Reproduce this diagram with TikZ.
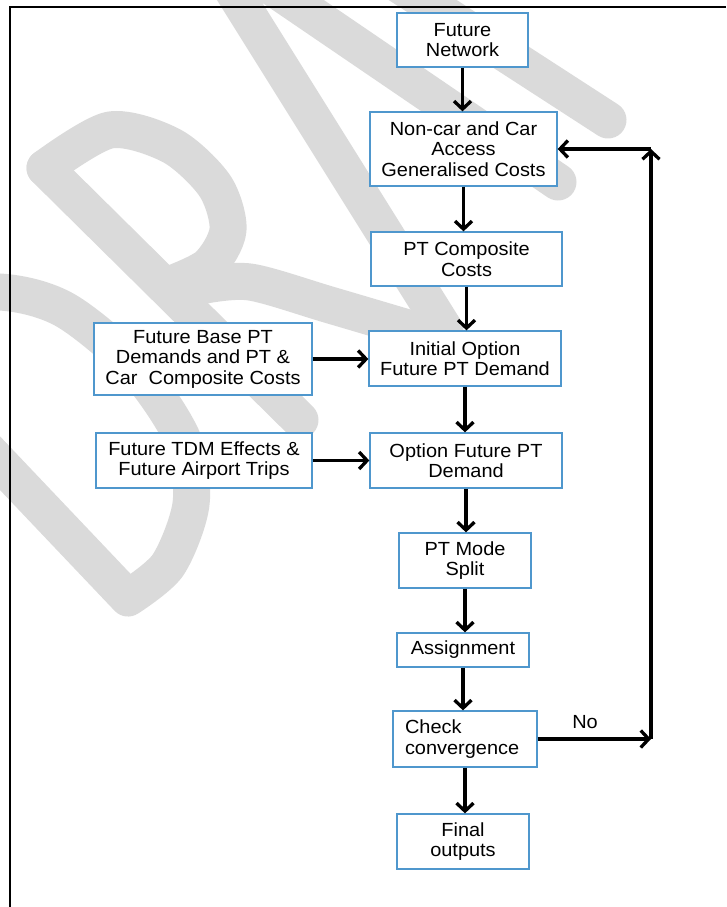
\documentclass[tikz,border=0pt]{standalone}
\usepackage{fontspec}
\setmainfont[FakeStretch=1.05]{Liberation Sans}
\usetikzlibrary{arrows.meta}
\definecolor{boxblue}{RGB}{79,151,205}
\definecolor{wmgray}{RGB}{218,218,218}
\begin{document}
\begin{tikzpicture}[x=1pt,y=-1pt,
  box/.style={draw=boxblue, line width=1.3pt, fill=white, align=center,
    font=\fontsize{19}{20.5}\selectfont, inner sep=0pt},
  arr/.style={line width=3.3pt, -{Straight Barb[length=8pt,width=17pt]}},
  lbl/.style={font=\fontsize{19}{20.5}\selectfont, inner sep=0pt},
  wm/.style={draw=wmgray, line width=37pt, line cap=round, line join=round}]
\useasboundingbox (0,0) rectangle (726,907);
% DRAFT watermark
\begin{scope}
  \clip (0,0) rectangle (726,907);
  % D
  \draw[wm] plot[smooth] coordinates {(-90,300) (0,292) (65,310) (135,368) (183,440) (191,504) (168,565) (128,598)} -- (-60,400);
  % R
  \draw[wm] (45,168) -- (300,420);
  \draw[wm] plot[smooth] coordinates {(45,168) (110,130) (172,146) (215,186) (228,230) (208,266) (166,286)};
  \draw[wm] plot[smooth] coordinates {(200,286) (250,282) (330,305) (428,334)};
  % A
  \draw[wm] (445,330) -- (200,-62) -- (558,182);
  % F
  \draw[wm] (330,-60) -- (608,120);
\end{scope}
\draw[line width=2pt] (9.5,907) -- (9.5,7) -- (726,7);

\node[box, minimum width=131pt, minimum height=54pt] (fn) at (462.5,40) {Future\\Network};
\node[box, minimum width=187pt, minimum height=74pt] (nc) at (463.5,149) {Non-car and Car\\Access\\Generalised Costs};
\node[box, minimum width=191pt, minimum height=54pt] (ptc) at (466.5,259) {PT Composite\\Costs};
\node[box, minimum width=218pt, minimum height=72pt] (fb) at (203,359) {Future Base PT\\Demands and PT \&\\Car\ \ Composite Costs};
\node[box, minimum width=192pt, minimum height=55pt] (ini) at (465,358.5) {Initial Option\\Future PT Demand};
\node[box, minimum width=216pt, minimum height=55pt] (tdm) at (204,460.5) {Future TDM Effects \&\\Future Airport Trips};
\node[box, minimum width=192pt, minimum height=55pt] (opt) at (466,460.5) {Option Future PT\\Demand};
\node[box, minimum width=132pt, minimum height=55pt] (mode) at (465,560.5) {PT Mode\\Split};
\node[box, minimum width=132pt, minimum height=34pt] (asg) at (463,650) {Assignment};
\node[box, align=left, text width=120pt, inner xsep=12pt, minimum height=56pt] (chk) at (465,739) {Check\\convergence};
\node[box, minimum width=132pt, minimum height=55pt] (fin) at (463,841.5) {Final\\outputs};
\node[lbl] (no) at (585,722) {No};

\coordinate (lp) at (651,739);
\coordinate (lt) at (651,149);

\draw[arr] (fn.south) -- (fn.south |- nc.north);
\draw[arr] (nc.south) -- (nc.south |- ptc.north);
\draw[arr] (ptc.south) -- (ptc.south |- ini.north);
\draw[arr] (ini.south) -- (ini.south |- opt.north);
\draw[arr] (opt.south) -- (opt.south |- mode.north);
\draw[arr] (mode.south) -- (mode.south |- asg.north);
\draw[arr] (asg.south) -- (asg.south |- chk.north);
\draw[arr] (chk.south) -- (chk.south |- fin.north);
\draw[arr] (fb.east) -- (fb.east -| ini.west);
\draw[arr] (tdm.east) -- (tdm.east -| opt.west);
\draw[arr] (chk.east) -- (lp);
\draw[arr] (lp) -- (lt);
\draw[arr] (lt) -- (nc.east);
\end{tikzpicture}
\end{document}
